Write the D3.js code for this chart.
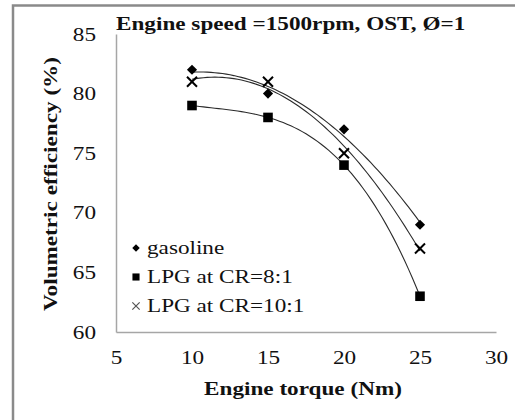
<!DOCTYPE html>
<html>
<head>
<meta charset="utf-8">
<script src="https://cdn.jsdelivr.net/npm/d3@7"></script>
<style>
  body { margin: 0; background: #fff; }
</style>
</head>
<body>
<div id="chart"></div>
<script>
var width = 515
var height = 420
var serif = '"Liberation Serif", "Times New Roman", "DejaVu Serif", serif'
var stretch = 1.22   // the picture's type runs wider than Times, so widen it

// data
var torque = [10, 15, 20, 25]
var gasoline = [82, 80, 77, 69]
var lpg8 = [79, 78, 74, 63]
var lpg10 = [81, 81, 75, 67]
var xTicks = [5, 10, 15, 20, 25, 30]
var yTicks = [60, 65, 70, 75, 80, 85]

var series = [
  { name: 'gasoline', values: gasoline, order: 2, symbol: d3.symbolDiamond2, size: 66 },
  { name: 'LPG at CR=8:1', values: lpg8, order: 3, symbol: d3.symbolSquare, size: 92 },
  { name: 'LPG at CR=10:1', values: lpg10, order: 2, symbol: d3.symbolX, size: 67 }
];

var svg = d3.select('#chart')
            .append('svg')
            .attr('width', width)
            .attr('height', height);

function widen(sel){
  sel.each(function(){
    var len = this.getComputedTextLength();
    d3.select(this).attr('textLength', len * stretch).attr('lengthAdjust', 'spacingAndGlyphs');
  });
}

// outer frame (only top and left edges show)
svg.append('path')
   .attr('d', 'M13,420 L13,5.5 L515,5.5')
   .attr('fill', 'none')
   .attr('stroke', '#8a8a8a')
   .attr('stroke-width', 2.5);

var x = d3.scaleLinear().domain([5, 30]).range([116, 496]);
var y = d3.scaleLinear().domain([60, 85]).range([332, 34]);

var xAxis = svg.append('g')
   .attr('transform', 'translate(0,' + y(60) + ')')
   .call(d3.axisBottom(x).tickValues(xTicks).tickSize(0).tickPadding(19));

var yAxis = svg.append('g')
   .attr('transform', 'translate(' + x(5) + ',0)')
   .call(d3.axisLeft(y).tickValues(yTicks).tickSize(0).tickPadding(20));

[xAxis, yAxis].forEach(function(a){
  a.attr('font-family', null).attr('font-size', null);
  a.select('.domain').attr('stroke', '#a6a6a6').attr('stroke-width', 1.5);
  a.selectAll('text')
   .style('font-family', serif)
   .style('font-size', '19px')
   .attr('fill', '#111')
   .call(widen);
});

// least squares polynomial, like a spreadsheet trendline
function polyFit(xs, ys, order){
  var m = order + 1;
  var A = [];
  for (var r = 0; r < m; r++){
    A.push([]);
    for (var c = 0; c < m; c++){
      A[r].push(d3.sum(xs, function(v){ return Math.pow(v, r + c); }));
    }
    A[r].push(d3.sum(xs, function(v, i){ return Math.pow(v, r) * ys[i]; }));
  }
  for (var k = 0; k < m; k++){
    for (var r2 = k + 1; r2 < m; r2++){
      var f = A[r2][k] / A[k][k];
      for (var j = k; j <= m; j++) A[r2][j] -= f * A[k][j];
    }
  }
  var b = new Array(m).fill(0);
  for (var r3 = m - 1; r3 >= 0; r3--){
    var v = A[r3][m];
    for (var j2 = r3 + 1; j2 < m; j2++) v -= A[r3][j2] * b[j2];
    b[r3] = v / A[r3][r3];
  }
  return function(xv){
    return d3.sum(b, function(coef, i){ return coef * Math.pow(xv, i); });
  };
}

var line = d3.line()
             .x(function(d){ return x(d[0]); })
             .y(function(d){ return y(d[1]); });

var steps = d3.range(torque[0], torque[torque.length - 1] + 0.01, 0.25);

series.forEach(function(s){
  var fit = polyFit(torque, s.values, s.order);
  svg.append('path')
     .datum(steps.map(function(t){ return [t, fit(t)]; }))
     .attr('d', line)
     .attr('fill', 'none')
     .attr('stroke', '#2b2b2b')
     .attr('stroke-width', 1.1);
});

series.forEach(function(s){
  var isX = s.symbol === d3.symbolX;
  svg.selectAll(null)
     .data(torque.map(function(t, i){ return [t, s.values[i]]; }))
     .enter()
     .append('path')
     .attr('d', d3.symbol().type(s.symbol).size(s.size))
     .attr('transform', function(d){ return 'translate(' + x(d[0]) + ',' + y(d[1]) + ')'; })
     .attr('fill', isX ? 'none' : '#000')
     .attr('stroke', isX ? '#000' : 'none')
     .attr('stroke-width', 2);
});

// legend
var legend = svg.append('g').attr('transform', 'translate(136,248)');
series.forEach(function(s, i){
  var isX = s.symbol === d3.symbolX;
  var row = legend.append('g').attr('transform', 'translate(0,' + (i * 29) + ')');
  row.append('path')
     .attr('d', d3.symbol().type(s.symbol).size(s.size * 0.55))
     .attr('fill', isX ? 'none' : '#000')
     .attr('stroke', isX ? '#555' : 'none')
     .attr('stroke-width', 1.2);
  row.append('text')
     .attr('x', 11)
     .attr('y', 6)
     .attr('fill', '#111')
     .style('font-family', serif)
     .style('font-size', '19px')
     .text(s.name)
     .call(widen);
});

// titles
svg.append('text')
   .attr('x', 116)
   .attr('y', 30)
   .attr('fill', '#111')
   .style('font-family', serif)
   .style('font-size', '19px')
   .style('font-weight', 'bold')
   .text('Engine speed =1500rpm, OST, \u00D8=1')
   .call(widen);

svg.append('text')
   .attr('x', 303)
   .attr('y', 395)
   .attr('text-anchor', 'middle')
   .attr('fill', '#111')
   .style('font-family', serif)
   .style('font-size', '19px')
   .style('font-weight', 'bold')
   .text('Engine torque (Nm)')
   .call(widen);

svg.append('text')
   .attr('transform', 'translate(57,184) rotate(-90)')
   .attr('text-anchor', 'middle')
   .attr('fill', '#111')
   .style('font-family', serif)
   .style('font-size', '19px')
   .style('font-weight', 'bold')
   .text('Volumetric efficiency (%)')
   .call(widen);
</script>
</body>
</html>
